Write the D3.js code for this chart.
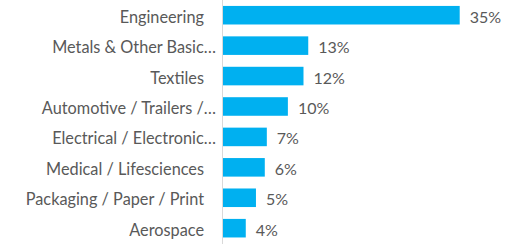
<!DOCTYPE html>
<html>
<head>
<meta charset="utf-8">
<script src="https://cdn.jsdelivr.net/npm/d3@7"></script>
<style>
  body { margin: 0; background: #fff; }
  text { font-family: Lato, "Open Sans", sans-serif; fill: #595959; }
</style>
</head>
<body>
<svg id="chart"></svg>
<script>
// sectors, top to bottom
var sectors = ['Engineering', 'Metals & Other Basic…', 'Textiles', 'Automotive / Trailers /…',
  'Electrical / Electronic…', 'Medical / Lifesciences', 'Packaging / Paper / Print', 'Aerospace'];
// share of respondents (%)
var shares = [35, 12.7, 12, 9.7, 6.6, 6.3, 5, 3.5];

var w = 517, h = 244;
var axisX = 222;

var svg = d3.select('#chart')
  .attr('width', w)
  .attr('height', h);

var data = sectors.map((s, i) => ({ name: s, value: shares[i] }));

var x = d3.scaleLinear()
  .domain([0, 35])
  .range([axisX, 459.7]);

var y = d3.scaleBand()
  .domain(sectors)
  .range([0, 243.4])
  .paddingInner(0.39)
  .paddingOuter(0.195);

// bars
svg.append('g')
  .selectAll('rect')
    .data(data)
  .enter()
    .append('rect')
    .attr('x', x(0))
    .attr('y', d => y(d.name))
    .attr('width', d => x(d.value) - x(0))
    .attr('height', y.bandwidth())
    .attr('fill', '#00b0f0');

// category axis line
svg.append('line')
  .attr('x1', axisX + 0.5).attr('x2', axisX + 0.5)
  .attr('y1', 0).attr('y2', h)
  .attr('stroke', '#d9d9d9')
  .attr('stroke-width', 1);

// category labels
svg.append('g')
  .selectAll('text')
    .data(data)
  .enter()
    .append('text')
    .attr('x', d => d.name.endsWith('…') ? 216 : 204)
    .attr('y', d => y(d.name) + y.bandwidth() / 2 + 1)
    .attr('text-anchor', 'end')
    .attr('dominant-baseline', 'central')
    .attr('font-size', 16.3)
    .text(d => d.name);

// value labels
svg.append('g')
  .selectAll('text')
    .data(data)
  .enter()
    .append('text')
    .attr('x', d => x(d.value) + 10)
    .attr('y', d => y(d.name) + y.bandwidth() / 2 + 1)
    .attr('dominant-baseline', 'central')
    .attr('font-size', 16)
    .text(d => Math.round(d.value) + '%');
</script>
</body>
</html>
